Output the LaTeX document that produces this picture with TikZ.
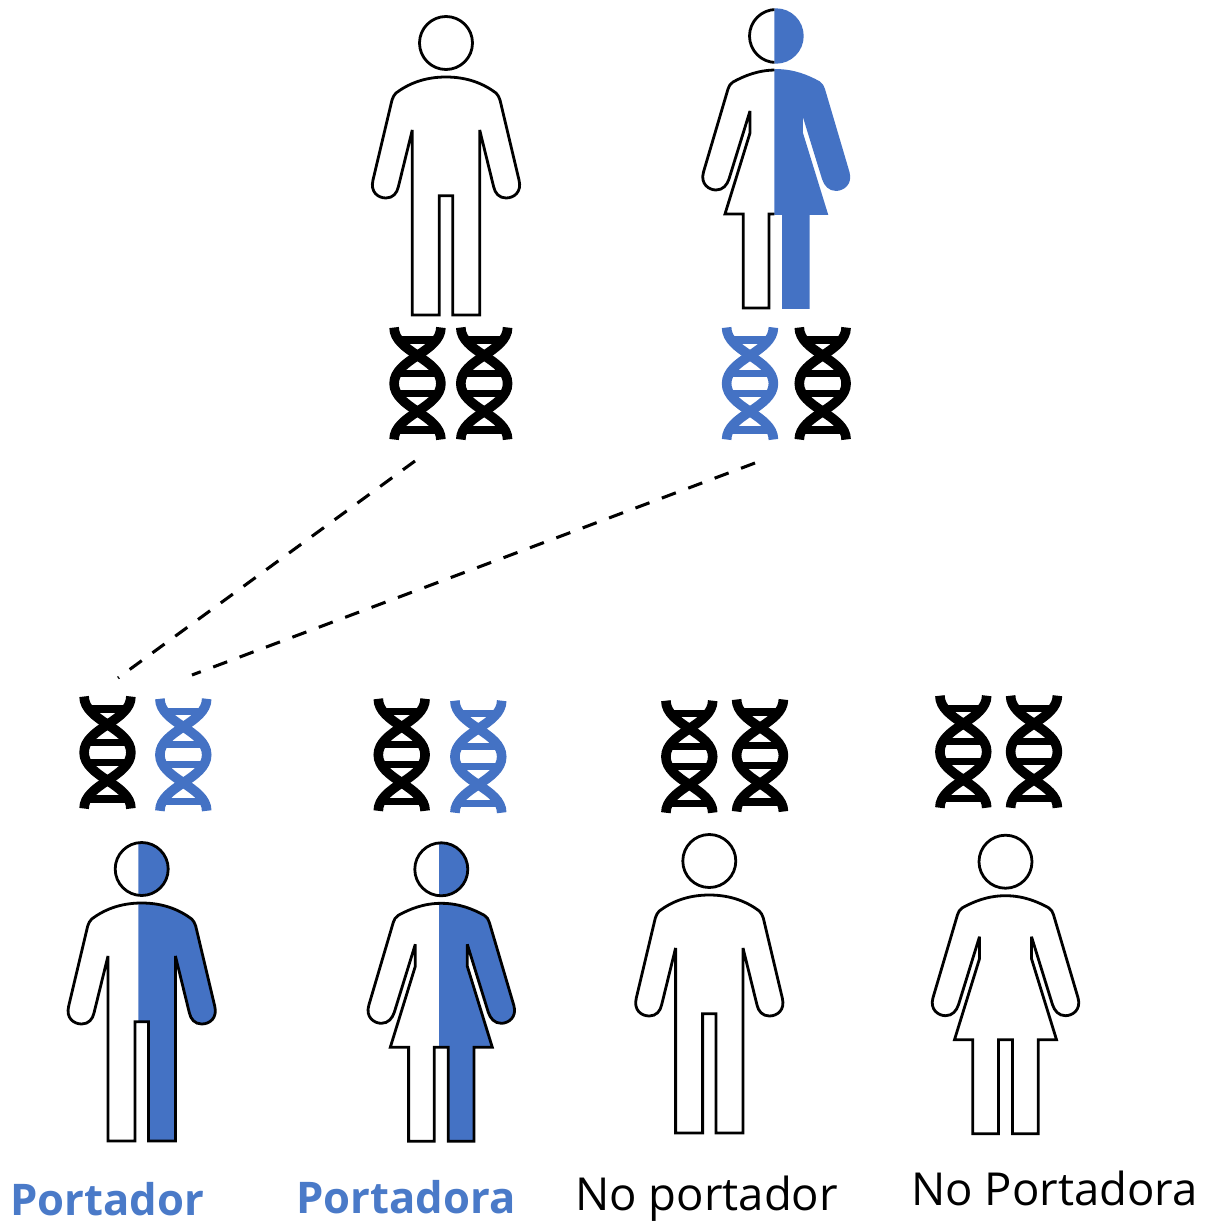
\documentclass[tikz,border=0pt]{standalone}
\usepackage{fontspec}
\setmainfont{Open Sans}
\definecolor{gblue}{HTML}{4472C4}
\definecolor{tblue}{HTML}{4A7AC8}
\newcommand\manbody{(0,34) .. controls (-22,34) and (-38,41) .. (-50,50) .. controls (-52,52) and (-53,54) .. (-54,57)
 -- (-73,137) .. controls (-76,149) and (-68,155) .. (-60,155) .. controls (-53,155) and (-49,150) .. (-47.7,144)
 -- (-33.7,87) -- (-33.7,272) -- (-6.7,272) -- (-6.7,152.7) -- (6.7,152.7) -- (6.7,272) -- (33.7,272) -- (33.7,87)
 -- (47.7,144) .. controls (49,150) and (53,155) .. (60,155) .. controls (68,155) and (76,149) .. (73,137)
 -- (54,57) .. controls (53,54) and (52,52) .. (50,50) .. controls (38,41) and (22,34) .. (0,34) -- cycle}
\newcommand\womanbody{(0,34) .. controls (-18,34) and (-32,40) .. (-43,46) .. controls (-46,48) and (-47,50) .. (-48,53)
 -- (-72.5,136) .. controls (-76,148) and (-67,154) .. (-60,154) .. controls (-53,154) and (-49,149) .. (-47,143)
 -- (-26,75) -- (-26,97) -- (-51,178) -- (-32.7,178) -- (-32.7,272) -- (-7,272) -- (-7,178) -- (7,178) -- (7,272) -- (32.7,272) -- (32.7,178) -- (51,178) -- (26,97) -- (26,75)
 -- (47,143) .. controls (49,149) and (53,154) .. (60,154) .. controls (67,154) and (76,148) .. (72.5,136)
 -- (48,53) .. controls (47,50) and (46,48) .. (43,46) .. controls (32,40) and (18,34) .. (0,34) -- cycle}
\newcommand\headshape{(0,0) circle[radius=26.5]}
\newcommand\personplain[3]{\begin{scope}[shift={(#2,#3)}]
 \draw[outline] \headshape; \draw[outline] #1; \end{scope}}
\newcommand\personhalf[4]{\begin{scope}[shift={(#2,#3)}]
 \begin{scope}\clip (#4,-40) rectangle (120,290); \fill[gblue] \headshape; \fill[gblue] #1; \end{scope}
 \draw[outline] \headshape; \draw[outline] #1; \end{scope}}
\newcommand\personleft[4]{\begin{scope}[shift={(#2,#3)}]
 \begin{scope}\clip (#4,-40) rectangle (120,290); \fill[gblue] (0,0) circle[radius=27.7]; \fill[gblue,draw=gblue,line width=1.4pt] #1; \end{scope}
 \begin{scope}\clip (-120,-40) rectangle (#4,290); \draw[outline] \headshape; \draw[outline] #1; \end{scope}
 \end{scope}}
\tikzset{
 x=0.75pt,y=-0.75pt,
 outline/.style={draw=black,line width=2.1pt,line join=miter,miter limit=6},
 strand/.style={line width=7.2pt,line cap=butt},
 rung/.style={line width=5.4pt},
 dnaicon/.pic={
  \draw[strand,pic actions] (-23.4,-56) .. controls (-23.4,-44) and (-12,-36) .. (0,-28) .. controls (12,-20) and (23.4,-12) .. (23.4,0) .. controls (23.4,12) and (12,20) .. (0,28) .. controls (-12,36) and (-23.4,44) .. (-23.4,56);
  \draw[strand,pic actions] (23.4,-56) .. controls (23.4,-44) and (12,-36) .. (0,-28) .. controls (-12,-20) and (-23.4,-12) .. (-23.4,0) .. controls (-23.4,12) and (-12,20) .. (0,28) .. controls (12,36) and (23.4,44) .. (23.4,56);
  \draw[rung,pic actions] (-21,-43.5) -- (21,-43.5);
  \draw[rung,pic actions] (-21,-10) -- (21,-10);
  \draw[rung,pic actions] (-21,10) -- (21,10);
  \draw[rung,pic actions] (-21,46.5) -- (21,46.5);
 },
 link/.style={draw=black,line width=2.3pt,dash pattern=on 11.2pt off 9.95pt},
 carrierlabel/.style={text=tblue,font=\bfseries\fontsize{32.7}{36}\selectfont,anchor=base west,inner sep=0pt},
 pluslabel/.style={text=black,font=\fontsize{34.1}{36}\selectfont,anchor=base west,inner sep=0pt},
}
\begin{document}
\begin{tikzpicture}
\useasboundingbox (0,0) rectangle (1204,1221);
\personplain{\manbody}{446}{43}
\personleft{\womanbody}{776}{36}{-1.7}
\personhalf{\manbody}{141.7}{869}{-3.4}
\personhalf{\womanbody}{441.3}{869.3}{-2.3}
\personplain{\manbody}{709.3}{861}
\personplain{\womanbody}{1005.5}{861.7}
\pic[draw=black] at (417.5,383.5) {dnaicon};
\pic[draw=black] at (484.2,383.5) {dnaicon};
\pic[draw=gblue] at (750,383.5) {dnaicon};
\pic[draw=black] at (822.7,383.5) {dnaicon};
\pic[draw=black] at (107.5,752.5) {dnaicon};
\pic[draw=gblue] at (183.3,754.8) {dnaicon};
\pic[draw=black] at (401.7,754.8) {dnaicon};
\pic[draw=gblue] at (478.3,756.7) {dnaicon};
\pic[draw=black] at (689.3,756.7) {dnaicon};
\pic[draw=black] at (760,755.5) {dnaicon};
\pic[draw=black] at (963.3,751.7) {dnaicon};
\pic[draw=black] at (1034,751.7) {dnaicon};
\coordinate (fatherdna) at (415,461);
\coordinate (motherdna) at (755,463);
\coordinate (childa) at (118,678);
\coordinate (childb) at (192,675);
\draw[link] (fatherdna) -- (childa);
\draw[link] (motherdna) -- (childb);
\node[carrierlabel] (l1) at (10,1215) {Portador};
\node[carrierlabel] (l2) at (296,1213) {Portadora};
\node[pluslabel] (l3) at (575,1210) {No portador};
\node[pluslabel] (l4) at (911,1205) {No Portadora};
\end{tikzpicture}
\end{document}
